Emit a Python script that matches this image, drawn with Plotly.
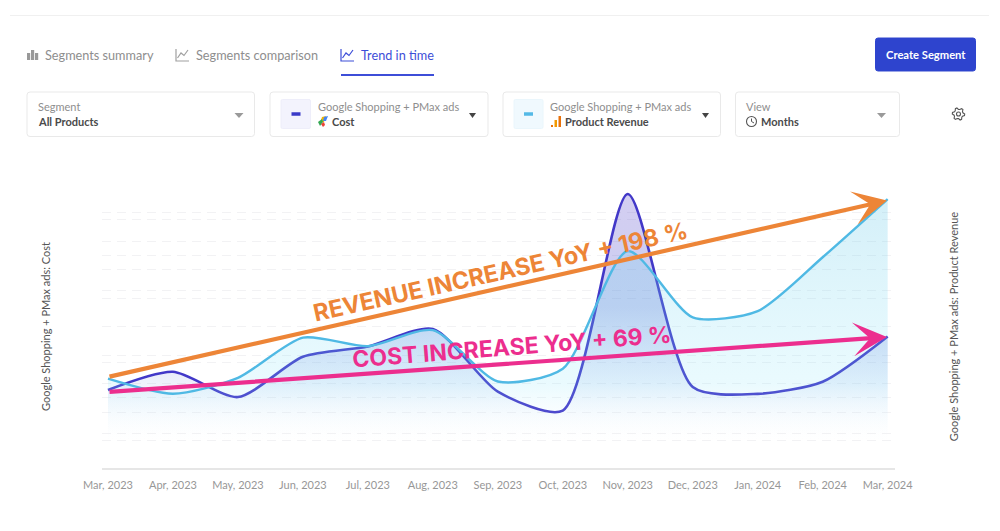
import math
import plotly.graph_objects as go

months = ["Mar, 2023","Apr, 2023","May, 2023","Jun, 2023","Jul, 2023","Aug, 2023","Sep, 2023",
          "Oct, 2023","Nov, 2023","Dec, 2023","Jan, 2024","Feb, 2024","Mar, 2024"]
cost = [2.22,2.73,2.02,3.15,3.44,3.93,2.17,1.64,7.72,2.30,2.11,2.45,3.72]
revenue = [3.17,2.64,3.20,4.61,4.31,4.87,3.07,3.52,7.65,5.32,5.54,7.43,9.47]
cost_title = "Google Shopping + PMax ads: Cost"
revenue_title = "Google Shopping + PMax ads: Product Revenue"
revenue_note = "REVENUE INCREASE YoY + 198 %"
cost_note = "COST INCREASE YoY + 69 %"

W, H = 1000, 531
X = lambda p: p / W
Y = lambda p: 1 - p / H
FONT = "Lato"

fig = go.Figure()
fig.add_trace(go.Scatter(
    x=months, y=revenue, yaxis="y2", mode="lines", name="Product Revenue",
    line=dict(color="#4FB9E4", width=2.4, shape="spline", smoothing=0.7),
    fill="tozeroy",
    fillgradient=dict(type="vertical", start=9.5, stop=0.8,
                      colorscale=[[0, "rgba(100,198,230,0.28)"], [0.75, "rgba(130,228,250,0.17)"], [1, "rgba(255,255,255,0)"]]),
))
fig.add_trace(go.Scatter(
    x=months, y=cost, mode="lines", name="Cost",
    line=dict(color="#4238C8", width=2.6, shape="spline", smoothing=0.7),
    fill="tozeroy",
    fillgradient=dict(type="vertical", start=7.7, stop=0.7,
                      colorscale=[[0, "rgba(80,60,200,0.25)"], [0.45, "rgba(70,80,205,0.28)"], [0.75, "rgba(80,110,215,0.10)"], [1, "rgba(255,255,255,0)"]]),
))

shapes, notes = [], []

def path(points, close=True):
    return "M" + " L".join(f"{X(a):.4f},{Y(b):.4f}" for a, b in points) + (" Z" if close else "")

def poly(points, fill):
    shapes.append(dict(type="path", xref="paper", yref="paper", path=path(points), fillcolor=fill, line=dict(width=0)))

def stroke(points, color, width=1.2, close=False):
    shapes.append(dict(type="path", xref="paper", yref="paper", path=path(points, close), line=dict(color=color, width=width)))

def box(x0, y0, x1, y1, fill="rgba(0,0,0,0)", line="#E9E9E9", r=3, lw=1):
    p = lambda a, b: f"{X(a):.4f},{Y(b):.4f}"
    d = (f"M{p(x0+r,y0)} L{p(x1-r,y0)} Q{p(x1,y0)} {p(x1,y0+r)} L{p(x1,y1-r)} Q{p(x1,y1)} {p(x1-r,y1)} "
         f"L{p(x0+r,y1)} Q{p(x0,y1)} {p(x0,y1-r)} L{p(x0,y0+r)} Q{p(x0,y0)} {p(x0+r,y0)} Z")
    shapes.append(dict(type="path", xref="paper", yref="paper", path=d, fillcolor=fill, line=dict(color=line, width=lw)))

def circle(cx, cy, r, color, width=1.2):
    shapes.append(dict(type="circle", xref="paper", yref="paper", x0=X(cx-r), x1=X(cx+r), y0=Y(cy+r), y1=Y(cy-r),
                       line=dict(color=color, width=width)))

def text(x, y, s, size=12.5, color="#8E8E8E", bold=False, anchor="left", family=FONT, angle=0):
    shift = -2 if anchor == "left" else 0
    notes.append(dict(xref="paper", yref="paper", x=X(x + shift), y=Y(y), text=f"<b>{s}</b>" if bold else s, showarrow=False,
                      xanchor=anchor, yanchor="middle", textangle=angle, font=dict(family=family, size=size, color=color)))

# page chrome
stroke([(10, 15.5), (989, 15.5)], "#F0F0F0", 1.2)
text(45, 55, "Segments summary", 12.7)
text(196, 55, "Segments comparison", 12.7)
text(361, 55, "Trend in time", 12.7, "#3D4ED8")
for a, t in [(27.5, 53), (31.5, 50), (35.5, 53)]:
    poly([(a-.5, 60), (a+2.7, 60), (a+2.7, t), (a-.5, t)], "#999999")
for a, col in [(176, "#A0A0A0"), (341, "#3D4ED8")]:
    stroke([(a, 49), (a, 61), (a+13, 61)], col, 1.2)
    stroke([(a+1.5, 58), (a+5, 53), (a+8, 55.5), (a+12, 50)], col, 1.2)
stroke([(341, 75), (434, 75)], "#3D4ED8", 2)
box(875.5, 38, 975.5, 71, "#2E44CE", "#2E44CE", r=2.5)
text(925.5, 55, "Create Segment", 11.2, "#FFFFFF", True, "center")

box(27, 92, 254.5, 136.5)
box(270, 92, 488, 136.5)
box(503, 92, 720.5, 136.5)
box(735.5, 92, 899.5, 136.5)
box(281, 99.5, 310.5, 128.5, "#F3F3FD", "#EEEEFA", r=1.5)
box(514, 99.5, 543, 128.5, "#F0F9FE", "#EAF6FC", r=1.5)
stroke([(291.5, 114), (300.5, 114)], "#3A3AC8", 3.5)
stroke([(524, 114), (533, 114)], "#54B9E6", 3.5)
for a, b, col in [(234.5, 243.5, "#9A9A9A"), (469, 476, "#444444"), (702, 709, "#444444"), (877, 886, "#9A9A9A")]:
    poly([(a, 113), (b, 113), ((a+b)/2, 118)], col)

text(38, 106.5, "Segment", 11)
text(38, 121.5, "All Products", 11, "#4A4A4A", True)
text(317.5, 106.5, "Google Shopping + PMax ads", 11)
text(332, 121.5, "Cost", 11, "#4A4A4A", True)
text(550, 106.5, "Google Shopping + PMax ads", 11)
text(565, 121.5, "Product Revenue", 11, "#4A4A4A", True)
text(746, 106.5, "View", 11)
text(761, 121.5, "Months", 11, "#4A4A4A", True)

# small product icons
poly([(322, 117), (326, 116), (324, 122), (320, 123)], "#F4B400")
poly([(324, 117), (328, 116), (326, 121), (323, 121)], "#4285F4")
poly([(318, 122), (322, 119), (323, 122), (320, 126)], "#34A853")
poly([(321, 124), (324, 122), (325, 125), (323, 127)], "#EA4335")
poly([(551, 125), (553, 125), (553, 127), (551, 127)], "#E8710A")
poly([(554.5, 120), (557, 120), (557, 127), (554.5, 127)], "#F29900")
poly([(558.5, 116), (561, 116), (561, 127), (558.5, 127)], "#E8710A")
circle(751.5, 121.5, 5, "#555555", 1.1)
stroke([(751.5, 118.5), (751.5, 121.5), (754, 123)], "#555555", 1)
circle(958.5, 114, 2, "#555555", 1.1)
gear = [(958.5 + (6.2 if i % 4 < 2 else 4.6) * math.cos(i * math.pi / 12),
         114 + (6.2 if i % 4 < 2 else 4.6) * math.sin(i * math.pi / 12)) for i in range(24)]
stroke(gear, "#555555", 1.1, close=True)

# trend arrows
for x0, y0, x1, y1, col in [(108, 377, 887, 200.5, "#ED8537"), (108, 392, 887, 337, "#EC2E8E")]:
    notes.append(dict(xref="paper", yref="paper", axref="pixel", ayref="pixel", x=X(x1), y=Y(y1), ax=x0-x1, ay=y0-y1,
                      text="", showarrow=True, arrowhead=3, arrowsize=1.35, arrowwidth=4.2, arrowcolor=col))
text(500, 271, revenue_note, 23.6, "#ED8537", True, "center", "Inter", -12.6)
text(512, 347, cost_note, 23, "#EC2E8E", True, "center", "Inter", -4.5)

grid = "#F2F2F4"
fig.update_layout(
    width=W, height=H, margin=dict(l=0, r=0, t=0, b=0), paper_bgcolor="#FFFFFF", plot_bgcolor="#FFFFFF",
    showlegend=False, font=dict(family=FONT), shapes=shapes, annotations=notes,
    xaxis=dict(type="category", categoryorder="array", categoryarray=months, range=[-0.092, 12.113],
               domain=[X(102), X(895)], showgrid=False, showline=False, ticks="", automargin=False,
               ticklabelstandoff=8,
               tickfont=dict(family=FONT, size=11, color="#979797"), anchor="y", zeroline=False),
    yaxis=dict(range=[0, 8], dtick=1, domain=[Y(469), Y(184)], showticklabels=False, ticks="", automargin=False,
               gridcolor=grid, griddash="9px,6px", gridwidth=1, zeroline=True, zerolinecolor="#E6E6E6",
               title=dict(text=cost_title, standoff=48, font=dict(family=FONT, size=11, color="#555555"))),
    yaxis2=dict(range=[0, 10], dtick=1, overlaying="y", side="right", showticklabels=False, ticks="", automargin=False,
                gridcolor=grid, griddash="9px,6px", gridwidth=1, zeroline=False,
                title=dict(text=revenue_title, standoff=55, font=dict(family=FONT, size=11, color="#555555"))),
)
fig.write_html("out.html", config=dict(displayModeBar=False),
               post_script="document.body.style.margin='0';document.body.style.overflow='hidden';")
